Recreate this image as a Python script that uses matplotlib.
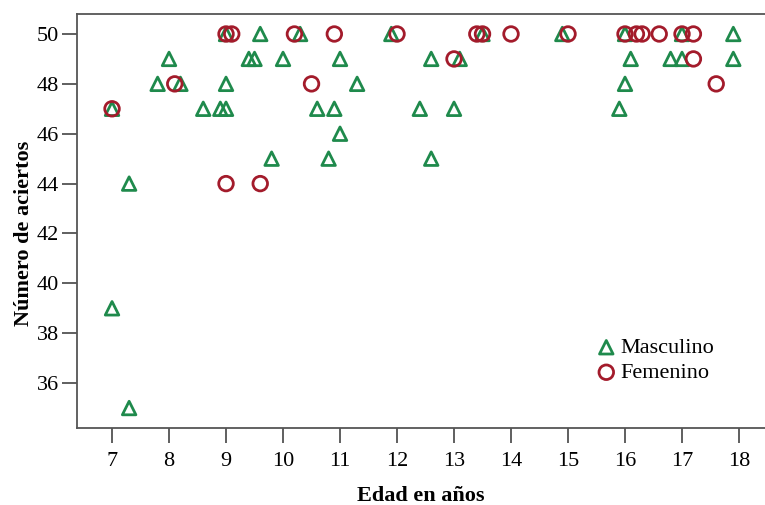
import matplotlib
matplotlib.use('Agg')
import matplotlib.pyplot as plt

# Data: age (years) vs number of correct answers
masc_edad = [7.0, 7.3, 7.0, 7.3, 7.8, 8.0, 8.2, 8.6, 8.9, 9.0, 9.0, 9.0,
             9.4, 9.5, 9.6, 9.8, 10.0, 10.3, 10.6, 10.9, 10.8, 11.0, 11.0, 11.3,
             11.9, 12.4, 12.6, 12.6, 13.0, 13.1, 13.5, 14.9, 15.9, 16.0, 16.0,
             16.1, 16.8, 17.0, 17.0, 17.9, 17.9]
masc_aciertos = [47, 44, 39, 35, 48, 49, 48, 47, 47, 47, 48, 50,
                 49, 49, 50, 45, 49, 50, 47, 47, 45, 49, 46, 48,
                 50, 47, 49, 45, 47, 49, 50, 50, 47, 48, 50,
                 49, 49, 49, 50, 50, 49]

fem_edad = [7.0, 8.1, 9.0, 9.6, 9.0, 9.1, 10.2, 10.5, 10.9, 12.0, 13.0,
            13.4, 13.5, 14.0, 15.0, 16.0, 16.2, 16.3, 16.6, 17.0, 17.2,
            17.2, 17.6]
fem_aciertos = [47, 48, 44, 44, 50, 50, 50, 48, 50, 50, 49,
                50, 50, 50, 50, 50, 50, 50, 50, 50, 50,
                49, 48]

x_ticks = list(range(7, 19))
y_ticks = list(range(36, 51, 2))

plt.rcParams['font.family'] = ['Liberation Serif', 'DejaVu Serif']

fig = plt.figure(figsize=(7.65, 5.05), dpi=100)
ax = fig.add_axes([0.1007, 0.1525, 0.8993, 0.8197])

green = '#1f8a4c'
red = '#a31b2b'

ax.scatter(masc_edad, masc_aciertos, marker='^', s=95, facecolors='none',
           edgecolors=green, linewidths=2.0, label='Masculino', zorder=3)
ax.scatter(fem_edad, fem_aciertos, marker='o', s=110, facecolors='none',
           edgecolors=red, linewidths=2.0, label='Femenino', zorder=4)

ax.set_xlim(6.386, 18.456)
ax.set_ylim(34.2, 50.8)
ax.set_xticks(x_ticks)
ax.set_yticks(y_ticks)
ax.tick_params(axis='both', direction='out', length=11, width=1.2,
               color='#444444', labelsize=16)
ax.tick_params(axis='x', pad=6)
ax.tick_params(axis='y', pad=2)

for side in ['left', 'bottom', 'top']:
    ax.spines[side].set_color('#555555')
    ax.spines[side].set_linewidth(1.3)
ax.spines['right'].set_visible(False)

ax.set_xlabel('Edad en años', fontsize=16, fontweight='bold', labelpad=11)
ax.set_ylabel('Número de aciertos', fontsize=16, fontweight='bold')
ax.yaxis.set_label_coords(-0.062, 0.47)

ax.legend(loc='upper left', bbox_to_anchor=(0.737, 0.24), frameon=False,
          fontsize=16, handletextpad=0.05, handlelength=1.2, labelspacing=0.2,
          borderaxespad=0)

fig.savefig('out.png', dpi=100)
